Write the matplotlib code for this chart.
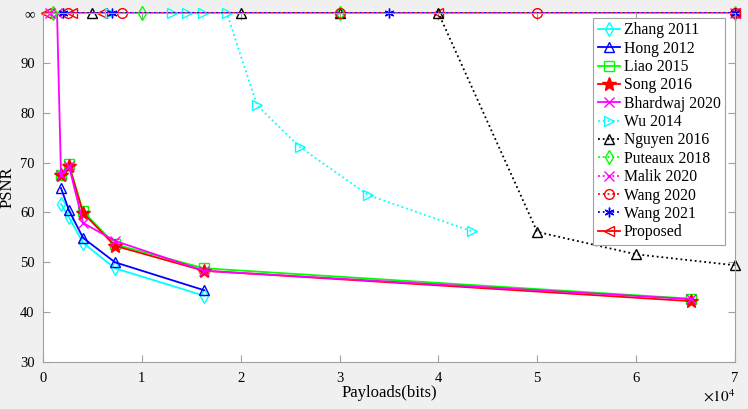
import matplotlib.pyplot as plt
from matplotlib.ticker import FuncFormatter

plt.rcParams['font.family'] = ['Liberation Serif', 'DejaVu Serif']
plt.rcParams['mathtext.fontset'] = 'stix'

INF = 100  # plotted as "∞" on the y axis

# payloads (bits) and PSNR
zhang_x = [1820, 2630, 4050, 7280, 16290]
zhang_y = [61.7, 59.0, 53.9, 48.8, 43.3]
hong_x = [1820, 2630, 4050, 7280, 16290]
hong_y = [64.9, 60.4, 54.9, 50.0, 44.4]
liao_x = [1820, 2630, 4050, 7280, 16290, 65536]
liao_y = [67.6, 69.7, 60.2, 53.6, 48.8, 42.7]
song_x = [1820, 2630, 4050, 7280, 16290, 65536]
song_y = [67.5, 69.4, 59.9, 53.3, 48.3, 42.2]
bhardwaj_x = [1420, 1820, 2630, 4050, 7280, 16290, 65536]
bhardwaj_y = [INF, 67.5, 69.3, 57.9, 54.3, 48.3, 42.6]
wu_x = [6800, 13000, 14600, 16200, 18600, 21650, 26000, 32900, 43400]
wu_y = [INF, INF, INF, INF, INF, 81.5, 73.1, 63.5, 56.2]
nguyen_x = [5000, 20000, 30000, 40000, 50000, 60000, 70000]
nguyen_y = [INF, INF, INF, INF, 56.1, 51.6, 49.4]
puteaux_x = [1000, 10000, 30000, 70000]
puteaux_y = [INF, INF, INF, INF]
malik_x = [700, 70000]
malik_y = [INF, INF]
wang20_x = [2500, 8000, 30000, 50000, 70000]
wang20_y = [INF, INF, INF, INF, INF]
wang21_x = [2000, 7000, 35000, 70000]
wang21_y = [INF, INF, INF, INF]
prop_x = [300, 2900, 6000, 40000, 70000]
prop_y = [INF, INF, INF, INF, INF]

fig = plt.figure(figsize=(7.48, 4.09), dpi=100, facecolor='#f0f0f0')
ax = fig.add_axes([0.0575, 0.115, 0.925, 0.853])

kw = dict(lw=1.3, ms=7, mfc='none', clip_on=False)
ax.plot(zhang_x, zhang_y, '-d', color='cyan', label='Zhang 2011', **kw)
ax.plot(hong_x, hong_y, '-^', color='#0000ff', label='Hong 2012', **kw)
ax.plot(liao_x, liao_y, '-s', color='#00ff00', label='Liao 2015', **kw)
ax.plot(song_x, song_y, '-*', color='red', lw=1.3, ms=10, clip_on=False, label='Song 2016')
ax.plot(bhardwaj_x, bhardwaj_y, '-x', color='magenta', label='Bhardwaj 2020', **kw)
ax.plot(wu_x, wu_y, ':>', color='cyan', label='Wu 2014', **kw)
ax.plot(nguyen_x, nguyen_y, ':^', color='black', label='Nguyen 2016', **kw)
ax.plot(puteaux_x, puteaux_y, ':d', color='#00ff00', label='Puteaux 2018', **kw)
ax.plot(malik_x, malik_y, ':x', color='magenta', label='Malik 2020', **kw)
ax.plot(wang20_x, wang20_y, ':o', color='red', label='Wang 2020', **kw)
ax.plot(wang21_x, wang21_y, ':', marker=(6, 2, 0), color='#0000ff', label='Wang 2021', **kw)
ax.plot(prop_x, prop_y, '-<', color='red', zorder=1.9, label='Proposed', **kw)

ax.set_xlim(0, 70000)
ax.set_ylim(30, 100)
ax.set_xticks(range(0, 70001, 10000))
ax.xaxis.set_major_formatter(FuncFormatter(lambda v, p: '%d' % round(v / 1e4)))
ax.set_yticks([30, 40, 50, 60, 70, 80, 90, 100])
ax.set_yticklabels(['30', '40', '50', '60', '70', '80', '90', '∞'])
ax.tick_params(direction='in', top=True, right=True, length=5, color='#a0a0a0',
               labelsize=10.5)
ax.tick_params(axis='x', pad=7)
ax.tick_params(axis='y', pad=6)
for s in ax.spines.values():
    s.set_color('#a0a0a0')

ax.set_xlabel('Payloads(bits)', fontsize=12, labelpad=0)
ax.set_ylabel('PSNR', fontsize=12, labelpad=3)
ax.text(1.0, -0.075, r'$\times10^4$', transform=ax.transAxes, ha='right', va='top', fontsize=11)

leg = ax.legend(loc='upper right', bbox_to_anchor=(0.986, 0.987), fontsize=11.3,
                fancybox=False, framealpha=1, edgecolor='#a0a0a0',
                handlelength=1.4, handletextpad=0.25, borderpad=0.3, labelspacing=0.15,
                borderaxespad=0)
leg.get_frame().set_linewidth(0.8)

fig.savefig('out.png', dpi=100, facecolor=fig.get_facecolor())
